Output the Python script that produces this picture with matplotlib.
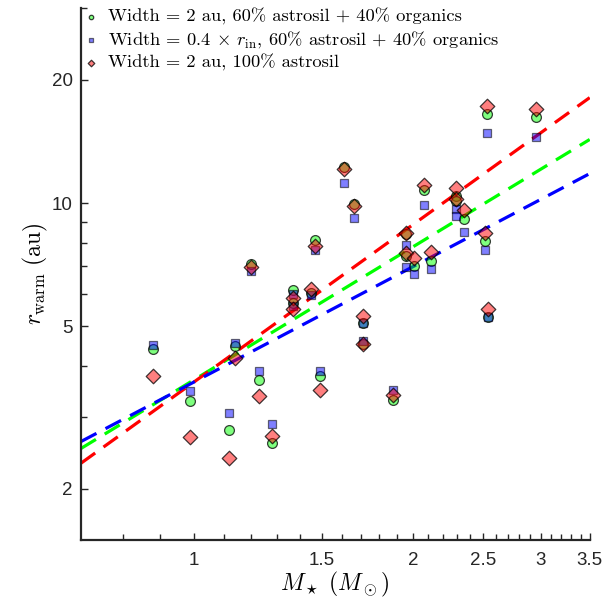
import matplotlib
matplotlib.use("Agg")
import matplotlib.pyplot as plt
from matplotlib.ticker import FixedLocator, NullFormatter
import numpy as np

plt.rcParams["font.family"] = ["Liberation Sans", "DejaVu Sans"]
plt.rcParams["mathtext.fontset"] = "cm"

# stellar masses (Msun)
mass = [0.88, 0.99, 1.12, 1.14, 1.20, 1.23, 1.28, 1.37, 1.37, 1.45, 1.47, 1.49, 1.61, 1.66, 1.71,
        1.71, 1.88, 1.96, 1.96, 2.01, 2.07, 2.12, 2.29, 2.29, 2.35, 2.51, 2.53, 2.54, 2.95]

# r_warm (au) for each model
r_w2_mix = [4.40, 3.28, 2.79, 4.47, 7.09, 3.69, 2.59, 6.13, 5.69, 6.03, 8.12, 3.78, 12.25, 9.94, 4.52,
            5.09, 3.30, 7.42, 8.40, 7.01, 10.76, 7.22, 10.40, 10.11, 9.14, 8.07, 16.50, 5.26, 16.23]
r_wrin_mix = [4.50, 3.47, 3.07, 4.55, 6.82, 3.88, 2.88, 5.99, 5.60, 5.96, 7.68, 3.88, 11.19, 9.19, 4.60,
              5.09, 3.49, 6.98, 7.89, 6.71, 9.89, 6.90, 9.67, 9.29, 8.49, 7.68, 14.83, 5.26, 14.50]
r_w2_astro = [3.78, 2.68, 2.38, 4.18, 6.98, 3.38, 2.69, 5.86, 5.51, 6.16, 7.85, 3.49, 12.11, 9.83, 4.52,
              5.29, 3.39, 7.55, 8.45, 7.34, 11.07, 7.59, 10.88, 10.23, 9.61, 8.45, 17.27, 5.51, 16.98]

# power-law fit lines (end points)
fit_mass = [0.7, 3.5]
fit_w2_mix = [2.51, 14.3]
fit_wrin_mix = [2.61, 11.8]
fit_w2_astro = [2.31, 18.1]

labels = [
    "Width = 2 au, 60% astrosil + 40% organics",
    r"Width = 0.4 $\times$ $r_{\rm in}$, 60% astrosil + 40% organics",
    "Width = 2 au, 100% astrosil",
]

fig = plt.figure(figsize=(6.13, 6.06), dpi=100)
ax = fig.add_axes([0.132, 0.109, 0.830, 0.878])

edge = (0, 0, 0, 0.75)
ax.scatter(mass, r_w2_mix, s=50, marker="o", facecolor=(0, 1, 0, 0.5), edgecolor=edge,
           linewidths=0.9, label=labels[0], zorder=3)
ax.scatter(mass, r_wrin_mix, s=40, marker="s", facecolor=(0, 0, 1, 0.5), edgecolor=(0, 0, 0, 0.55),
           linewidths=0.9, label=labels[1], zorder=3)
ax.scatter(mass, r_w2_astro, s=55, marker="D", facecolor=(1, 0, 0, 0.5), edgecolor=edge,
           linewidths=0.9, label=labels[2], zorder=3)

dash = (0, (5.5, 3.2))
ax.plot(fit_mass, fit_w2_mix, color=(0, 1, 0), linestyle=dash, linewidth=2.3, zorder=2)
ax.plot(fit_mass, fit_w2_astro, color=(1, 0, 0), linestyle=dash, linewidth=2.3, zorder=2)
ax.plot(fit_mass, fit_wrin_mix, color=(0, 0, 1), linestyle=dash, linewidth=2.3, zorder=2)

ax.set_xscale("log")
ax.set_yscale("log")
ax.set_xlim(0.7, 3.5)
ax.set_ylim(1.5, 30)

xt = [1, 1.5, 2, 2.5, 3, 3.5]
ax.xaxis.set_major_locator(FixedLocator(xt))
ax.set_xticklabels(["1", "1.5", "2", "2.5", "3", "3.5"])
ax.xaxis.set_minor_locator(FixedLocator(np.round(np.arange(0.8, 3.45, 0.1), 2)))
ax.xaxis.set_minor_formatter(NullFormatter())

yt = [2, 5, 10, 20]
ax.yaxis.set_major_locator(FixedLocator(yt))
ax.set_yticklabels(["2", "5", "10", "20"])
ax.yaxis.set_minor_locator(FixedLocator([3, 4, 6, 7, 8, 9, 30]))
ax.yaxis.set_minor_formatter(NullFormatter())

ax.tick_params(which="both", direction="in", labelsize=13.5, width=1.0, color="#262626",
               labelcolor="#262626")
ax.tick_params(axis="x", pad=9)
ax.tick_params(axis="y", pad=6)
ax.tick_params(which="major", length=5)
ax.tick_params(which="minor", length=4)

for side in ["top", "right"]:
    ax.spines[side].set_visible(False)
for side in ["left", "bottom"]:
    ax.spines[side].set_linewidth(1.6)
    ax.spines[side].set_color("#262626")

ax.set_xlabel(r"$M_\star\ (M_\odot)$", fontsize=17, labelpad=0)
ax.set_ylabel(r"$r_{\rm warm}\ (\mathrm{au})$", fontsize=17, labelpad=1)

leg = ax.legend(loc="upper left", bbox_to_anchor=(-0.01, 1.01), frameon=False,
                prop={"family": "cmr10", "size": 13.3},
                handletextpad=0.45, handlelength=1.0, labelspacing=0.22, borderaxespad=0.0,
                borderpad=0.3, markerscale=0.45)

fig.savefig("out.png", dpi=100)
